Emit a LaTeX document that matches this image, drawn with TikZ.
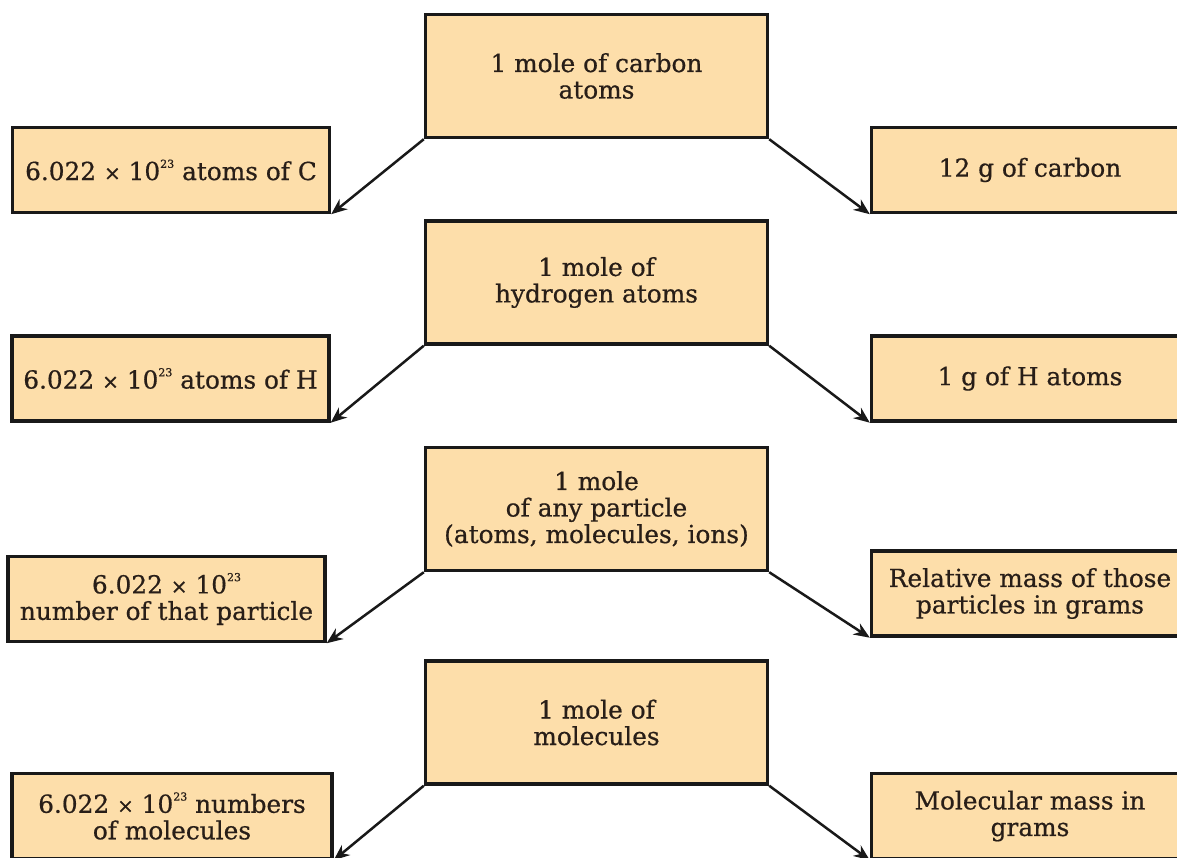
\documentclass[tikz,border=0pt]{standalone}
\usepackage{fontspec}
\setmainfont{DejaVu Serif}[FakeBold=0.6]
\usetikzlibrary{arrows.meta}
\definecolor{boxfill}{RGB}{253,222,170}
\definecolor{ink}{RGB}{40,30,24}
\newcommand{\twothree}{\raisebox{0.95ex}{\fontsize{11}{11}\selectfont 23}}
\newcommand{\tms}{{\fontsize{20}{20}\selectfont ×}}
\tikzset{
  box/.style={draw=black!90, line width=3.4pt, fill=boxfill, text=ink, align=center,
    inner sep=0pt, font=\fontsize{24.8}{26.5}\selectfont},
  cbox/.style={box, minimum width=342pt, minimum height=123pt},
  sbox/.style={box, minimum width=317pt, minimum height=85pt},
  conn/.style={-{Stealth[length=16pt,width=13pt]}, line width=2.5pt, draw=black!90}
}
\begin{document}
\begin{tikzpicture}[x=1pt,y=-1pt]
\useasboundingbox (0,0) rectangle (1177,857);
\clip (0,0) rectangle (1177,857);
% centre boxes
\node[cbox] (c1) at (596.5,76) {1 mole of carbon\\atoms};
\node[cbox] (c2) at (596.5,282.5) {1 mole of\\hydrogen atoms};
\node[cbox] (c3) at (596.5,509) {1 mole\\of any particle\\(atoms, molecules, ions)};
\node[cbox] (c4) at (596.5,722.5) {1 mole of\\molecules};
% left boxes
\node[sbox] (l1) at (171,170) {6.022 \tms\ 10\twothree\ atoms of C};
\node[sbox] (l2) at (170.5,378.5) {6.022 \tms\ 10\twothree\ atoms of H};
\node[sbox] (l3) at (166.5,599) {6.022 \tms\ 10\twothree\\number of that particle};
\node[sbox, minimum width=320pt] (l4) at (172,816) {6.022 \tms\ 10\twothree\ numbers\\of molecules};
% right boxes
\node[sbox] (r1) at (1030,170) {12 g of carbon};
\node[sbox] (r2) at (1030,378.5) {1 g of H atoms};
\node[sbox] (r3) at (1030,593.5) {Relative mass of those\\particles in grams};
\node[sbox] (r4) at (1030,816) {Molecular mass in\\grams};
% connectors
\foreach \i in {1,2,3,4}{
  \draw[conn] (c\i.south west) -- (l\i.south east);
  \draw[conn] (c\i.south east) -- (r\i.south west);
}
\end{tikzpicture}
\end{document}
